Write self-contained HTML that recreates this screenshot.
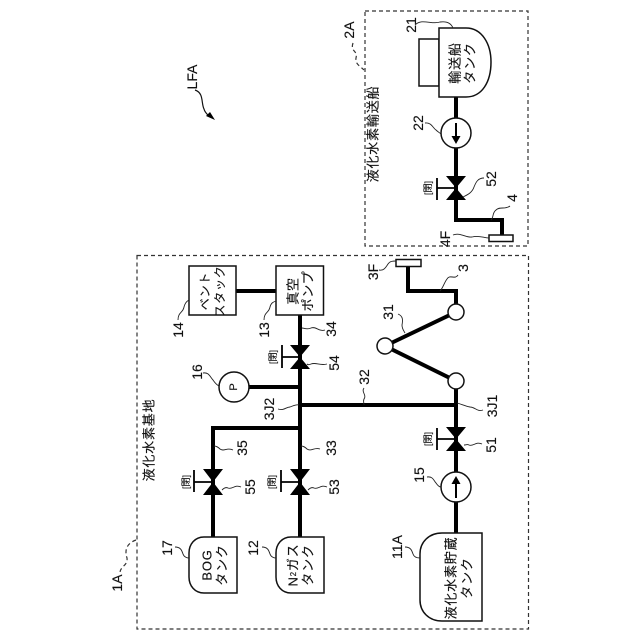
<!DOCTYPE html>
<html><head><meta charset="utf-8"><style>
html,body{margin:0;padding:0;background:#fff}
svg{display:block}
text{font-family:"Liberation Sans","Noto Sans CJK JP",sans-serif;fill:#111;stroke:#111;stroke-width:.15;text-anchor:middle;dominant-baseline:central}
.n{font-size:14px}.j{font-size:13px;letter-spacing:.8px}.s{font-size:9px}
.p{fill:none;stroke:#000;stroke-width:4;stroke-linejoin:miter}
.b{fill:#fff;stroke:#111;stroke-width:1.5}
.l{fill:none;stroke:#222;stroke-width:.9}
.d{fill:none;stroke:#333;stroke-width:1.2;stroke-dasharray:4 3}
.v{fill:#000;stroke:none}
.t{fill:none;stroke:#000;stroke-width:1.8}
</style></head><body>
<svg width="640" height="640" viewBox="0 0 640 640" xmlns="http://www.w3.org/2000/svg">
<rect width="640" height="640" fill="#fff"/>
<rect class="d" x="137" y="255.5" width="391.5" height="373.5"/>
<rect class="d" x="365" y="11" width="163" height="235"/>
<path class="d" d="M353 43C350 52 358 50 356 58C355 64 360 66 364 70"/>
<path class="d" d="M136 540C125 544 125 552 127 558C128 566 120 566 120 573"/>

<!-- pipes -->
<path class="p" d="M456 97V220H502V236"/>
<path class="p" d="M236 291H276"/>
<path class="p" d="M300 315V537"/>
<path class="p" d="M213 537V428H300"/>
<path class="p" d="M249 387H300"/>
<path class="p" d="M300 405H456"/>
<path class="p" d="M456 533V381"/>
<path class="p" d="M456 381L385 346L456 312V291H408V266"/>

<!-- valves -->
<path class="v" d="M446 176H466L456 188L466 200H446L456 188Z"/>
<path class="t" d="M456 188H437M437 178V200"/>
<path class="v" d="M290 345H310L300 357L310 369H290L300 357Z"/>
<path class="t" d="M300 357H282M282 345V368"/>
<path class="v" d="M203 469H223L213 482L223 495H203L213 482Z"/>
<path class="t" d="M213 482H194M194 470V492"/>
<path class="v" d="M290 469H310L300 482L310 495H290L300 482Z"/>
<path class="t" d="M300 482H281M281 470V492"/>
<path class="v" d="M446 427H466L456 439L466 451H446L456 439Z"/>
<path class="t" d="M456 439H437M437 428V450"/>

<!-- ship tank -->
<rect class="b" x="419" y="39" width="20" height="47"/>
<path class="b" d="M439 28H466C482 28 491 44 491 62C491 82 482 97 466 97H439Z"/>
<circle class="b" cx="456" cy="133" r="15"/>
<path d="M456 123V138" stroke="#000" stroke-width="2"/>
<path class="v" d="M451.500 136H460.500L456 144Z"/>
<rect class="b" x="489" y="235" width="24" height="6.500"/>

<!-- boxes -->
<rect class="b" x="189" y="266" width="47" height="49"/>
<rect class="b" x="276" y="266" width="47.500" height="49"/>
<circle class="b" cx="234" cy="387" r="15"/>
<path class="b" d="M237 537V593H204C195 593 189 586 189 577V553C189 544 195 537 204 537Z"/>
<path class="b" d="M324 537V593H291C282 593 276 586 276 577V553C276 544 282 537 291 537Z"/>
<path class="b" d="M482 533V621H442C429 621 420 612 420 600V554C420 542 429 533 442 533Z"/>
<circle class="b" cx="456" cy="487" r="15"/>
<path d="M456 498V482" stroke="#000" stroke-width="2"/>
<path class="v" d="M451.500 484H460.500L456 476Z"/>
<circle class="b" cx="456" cy="381" r="8"/>
<circle class="b" cx="385" cy="346" r="8"/>
<circle class="b" cx="456" cy="312" r="8"/>
<rect class="b" x="396" y="259.500" width="25" height="7"/>

<!-- leaders -->
<path class="l" d="M415 25C422 18 432 25 440 22C447 21 451 23 453 28"/>
<path class="l" d="M425 123C431 122 433 128 436 130C438 132 440 133 441 134"/>
<path class="l" d="M484 178C478 178 476 182 474 187C472 193 467 195 463 197"/>
<path class="l" d="M510 206C505 210 500 206 496 210C492 213 494 217 491 220"/>
<path class="l" d="M453 235C460 232 466 238 472 237C479 235 484 238 489 238"/>
<path class="l" d="M178 320C178 312 183 313 184 307C185 303 187 301 189 300"/>
<path class="l" d="M264 320C264 312 269 313 270 307C271 303 273 302 276 301"/>
<path class="l" d="M325 330C319 332 316 326 311 328C307 330 304 328 302 328"/>
<path class="l" d="M327 364C320 366 316 362 311 364C309 365 308 365 307 364"/>
<path class="l" d="M203 373C209 372 210 377 213 380C215 383 217 385 219 386"/>
<path class="l" d="M278 409C284 411 286 407 290 407C293 406 296 404 299 405"/>
<path class="l" d="M364 388C361 392 367 395 364 399C363 401 364 403 364 405"/>
<path class="l" d="M233 450C227 447 224 452 220 449C218 447 216 446 214 446"/>
<path class="l" d="M320 449C314 447 311 452 307 449C305 447 303 446 301 446"/>
<path class="l" d="M241 487C235 484 232 490 228 488C226 487 224 488 222 490"/>
<path class="l" d="M327 487C321 484 318 490 314 488C312 487 310 488 308 490"/>
<path class="l" d="M482 444C476 441 473 447 469 445C467 444 466 445 464 445"/>
<path class="l" d="M483 410C477 412 475 407 470 407C465 406 461 404 457 403"/>
<path class="l" d="M379 270C384 271 386 267 388 264C390 261 393 261 396 261"/>
<path class="l" d="M458 275C455 280 450 274 447 279C444 283 443 288 440 291"/>
<path class="l" d="M398 314C403 316 403 320 402 325C402 329 404 331 405 333"/>
<path class="l" d="M175 547C181 547 182 551 183 554C184 557 187 558 189 558"/>
<path class="l" d="M262 547C268 547 269 551 270 554C271 557 274 558 276 558"/>
<path class="l" d="M405 547C411 547 412 551 413 554C414 557 417 558 420 558"/>
<path class="l" d="M427 477C433 476 434 481 436 483C438 486 440 487 441 487"/>
<path d="M195 90C204 93 201 103 204 109C205 113 208 115 210 117" fill="none" stroke="#111" stroke-width="1.2"/>
<path class="v" d="M206 116L215 120L210 112Z"/>

<!-- labels -->
<g class="n">
<text transform="translate(349 30) rotate(-90)">2A</text>
<text transform="translate(411 25) rotate(-90)">21</text>
<text transform="translate(418 123) rotate(-90)">22</text>
<text transform="translate(491 179) rotate(-90)">52</text>
<text transform="translate(512 198) rotate(-90)">4</text>
<text transform="translate(445 239) rotate(-90)">4F</text>
<text transform="translate(178 330) rotate(-90)">14</text>
<text transform="translate(264 330) rotate(-90)">13</text>
<text transform="translate(331 329) rotate(-90)">34</text>
<text transform="translate(334 363) rotate(-90)">54</text>
<text transform="translate(197 372) rotate(-90)">16</text>
<text transform="translate(269 409) rotate(-90)">3J2</text>
<text transform="translate(364 377) rotate(-90)">32</text>
<text transform="translate(331 448) rotate(-90)">33</text>
<text transform="translate(242 448) rotate(-90)">35</text>
<text transform="translate(250 487) rotate(-90)">55</text>
<text transform="translate(334 487) rotate(-90)">53</text>
<text transform="translate(491 445) rotate(-90)">51</text>
<text transform="translate(492 406) rotate(-90)">3J1</text>
<text transform="translate(373 272) rotate(-90)">3F</text>
<text transform="translate(463 268) rotate(-90)">3</text>
<text transform="translate(388 312) rotate(-90)">31</text>
<text transform="translate(117 583) rotate(-90)">1A</text>
<text transform="translate(167 548) rotate(-90)">17</text>
<text transform="translate(253 548) rotate(-90)">12</text>
<text transform="translate(397 547) rotate(-90)">11A</text>
<text transform="translate(419 475) rotate(-90)">15</text>
<text transform="translate(192 77) rotate(-90)">LFA</text>
<text transform="translate(234 387) rotate(-90)" style="font-size:11px">P</text>
</g>
<g class="j">
<text transform="translate(373 134) rotate(-90)">液化水素輸送船</text>
<text transform="translate(149 440) rotate(-90)">液化水素基地</text>
<text transform="translate(455 63) rotate(-90)">輸送船</text>
<text transform="translate(470 63) rotate(-90)">タンク</text>
<text transform="translate(205 291) rotate(-90)" style="font-size:12px">ベント</text>
<text transform="translate(220 291) rotate(-90)" style="font-size:12px">スタック</text>
<text transform="translate(293 291) rotate(-90)">真空</text>
<text transform="translate(308 291) rotate(-90)">ポンプ</text>
<text transform="translate(207 565) rotate(-90)">BOG</text>
<text transform="translate(222 565) rotate(-90)">タンク</text>
<text transform="translate(293 565) rotate(-90)">N<tspan style="font-size:8px">2</tspan>ガス</text>
<text transform="translate(308 565) rotate(-90)">タンク</text>
<text transform="translate(451 578) rotate(-90)">液化水素貯蔵</text>
<text transform="translate(467 578) rotate(-90)">タンク</text>
</g>
<g class="s">
<text transform="translate(428 188) rotate(-90)">[閉]</text>
<text transform="translate(273 357) rotate(-90)">[閉]</text>
<text transform="translate(186 482) rotate(-90)">[閉]</text>
<text transform="translate(272 482) rotate(-90)">[閉]</text>
<text transform="translate(428 439) rotate(-90)">[閉]</text>
</g>
</svg>
</body></html>
